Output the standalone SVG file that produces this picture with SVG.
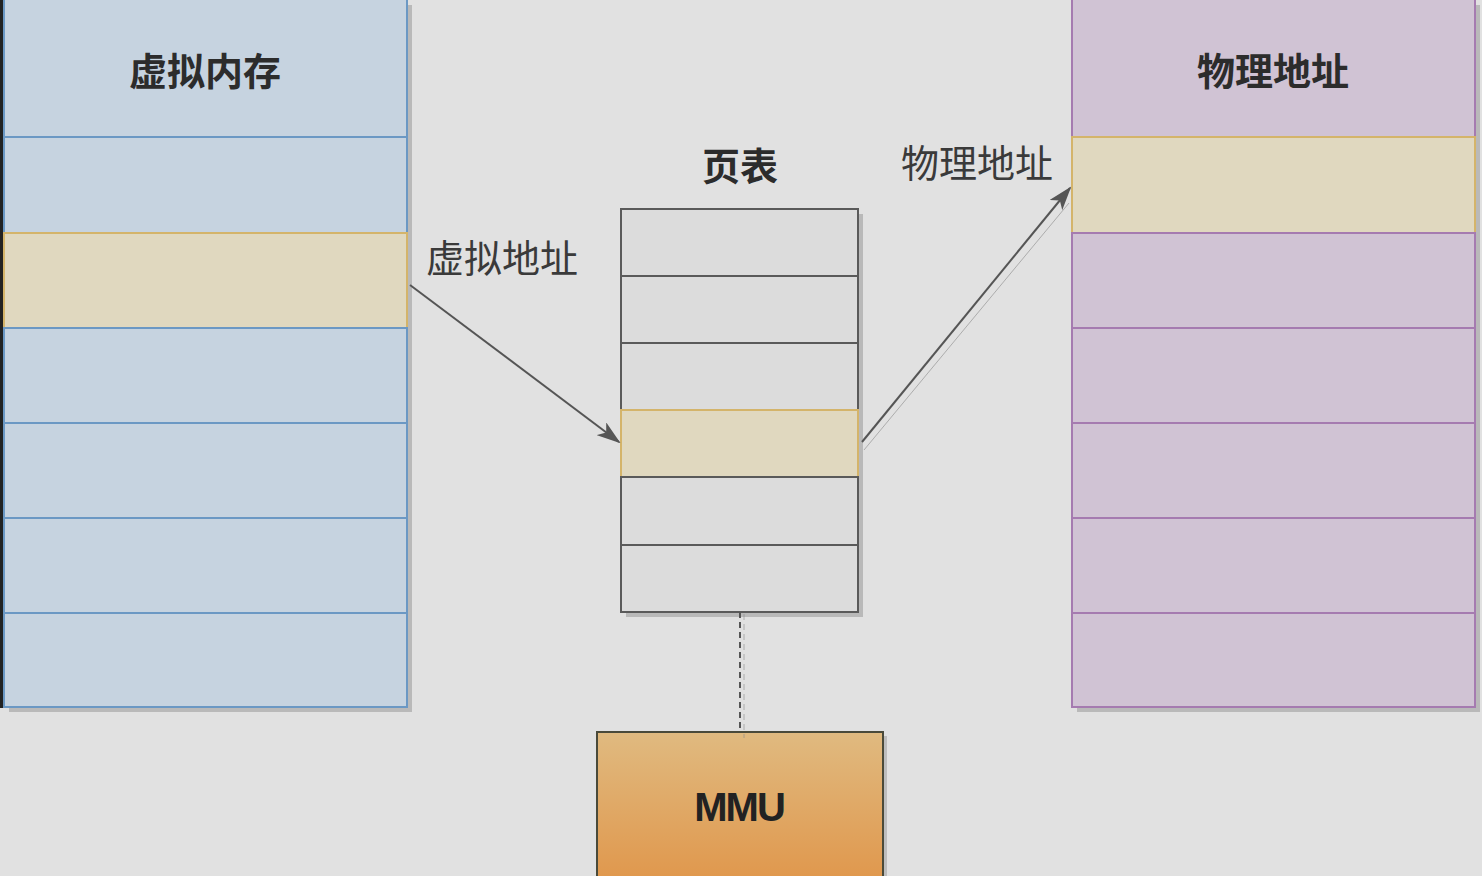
<svg xmlns="http://www.w3.org/2000/svg" width="1482" height="876" viewBox="0 0 1482 876">
<style>
.blue{fill:#c6d3e0;stroke:#6b98c4;stroke-width:2}
.yel{fill:#e0d8bf;stroke:#d4b46a;stroke-width:2}
.pur{fill:#d0c3d4;stroke:#a57bb0;stroke-width:2}
.gray{fill:#dcdcdc;stroke:#5a5a5a;stroke-width:2}
.shadow{fill:#b9b9b9}
.title{font-family:"Noto Sans CJK SC","Noto Sans",sans-serif;font-weight:bold;font-size:38px;fill:#2c2c2c;text-anchor:middle}
.label{font-family:"Noto Sans CJK SC","Noto Sans",sans-serif;font-size:38px;fill:#3a3a3a}
.conn{stroke:#555;stroke-width:2;fill:none}
.ghost{stroke:#888;stroke-width:1;fill:none;opacity:0.6}
</style>
<defs>
<marker id="arrow" viewBox="0 0 24 16" refX="22" refY="8" markerWidth="24" markerHeight="16" markerUnits="userSpaceOnUse" orient="auto">
<path d="M0,0 L24,8 L0,16 L6,8 Z" fill="#555"/>
</marker>
<linearGradient id="mmuGrad" x1="0" y1="0" x2="0" y2="1">
<stop offset="0" stop-color="#e0ba80"/>
<stop offset="1" stop-color="#e0974c"/>
</linearGradient>
</defs>
<rect width="1482" height="876" fill="#e1e1e1"/>

<g id="virtual-memory">
<rect class="shadow" x="9" y="5" width="403" height="707"/>
<rect class="blue" x="4" y="-2" width="403" height="139"/>
<rect class="blue" x="4" y="137" width="403" height="96"/>
<rect class="yel" x="4" y="233" width="403" height="95"/>
<rect class="blue" x="4" y="328" width="403" height="95"/>
<rect class="blue" x="4" y="423" width="403" height="95"/>
<rect class="blue" x="4" y="518" width="403" height="95"/>
<rect class="blue" x="4" y="613" width="403" height="94"/>
<rect x="0" y="0" width="3" height="708" fill="#222"/>
<text class="title" x="205" y="85">虚拟内存</text>
</g>

<g id="page-table">
<rect class="shadow" x="626" y="214" width="237" height="403"/>
<rect class="gray" x="621" y="209" width="237" height="67"/>
<rect class="gray" x="621" y="276" width="237" height="67"/>
<rect class="gray" x="621" y="343" width="237" height="67"/>
<rect class="yel" x="621" y="410" width="237" height="67"/>
<rect class="gray" x="621" y="477" width="237" height="68"/>
<rect class="gray" x="621" y="545" width="237" height="67"/>
<text class="title" x="740" y="180">页表</text>
</g>

<g id="physical-memory">
<rect class="shadow" x="1077" y="5" width="403" height="707"/>
<rect class="pur" x="1072" y="-2" width="403" height="139"/>
<rect class="yel" x="1072" y="137" width="403" height="96"/>
<rect class="pur" x="1072" y="233" width="403" height="95"/>
<rect class="pur" x="1072" y="328" width="403" height="95"/>
<rect class="pur" x="1072" y="423" width="403" height="95"/>
<rect class="pur" x="1072" y="518" width="403" height="95"/>
<rect class="pur" x="1072" y="613" width="403" height="94"/>
<text class="title" x="1273" y="85">物理地址</text>
</g>

<g id="mmu">
<rect x="601" y="736" width="286" height="150" fill="#bdbdbd"/>
<rect x="597" y="732" width="286" height="150" fill="url(#mmuGrad)" stroke="#4a4a3a" stroke-width="2"/>
<text x="739" y="821" font-family="Liberation Sans, sans-serif" font-weight="bold" font-size="40" fill="#222" text-anchor="middle" letter-spacing="-2">MMU</text>
</g>

<g id="connectors">
<line class="conn" x1="410" y1="285" x2="619" y2="442" marker-end="url(#arrow)"/>
<text class="label" x="426" y="272">虚拟地址</text>
<line class="conn" x1="862" y1="442" x2="1070" y2="188" marker-end="url(#arrow)"/>
<line class="ghost" x1="864" y1="450" x2="1069" y2="203"/>
<text class="label" x="901" y="177">物理地址</text>
<line class="conn" x1="740" y1="612" x2="740" y2="732" stroke-dasharray="6 4"/>
<line class="ghost" x1="744" y1="614" x2="744" y2="738" stroke-dasharray="6 4"/>
</g>
</svg>
